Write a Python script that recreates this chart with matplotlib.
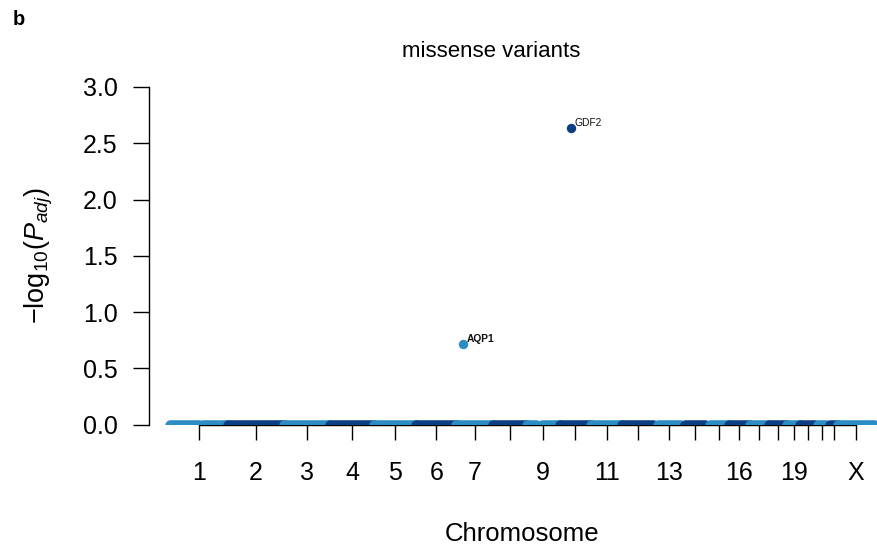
import numpy as np
import matplotlib
matplotlib.use("Agg")
import matplotlib.pyplot as plt

plt.rcParams['font.family'] = ['Liberation Sans', 'DejaVu Sans']
plt.rcParams['mathtext.fontset'] = 'custom'
plt.rcParams['mathtext.rm'] = 'Liberation Sans'
plt.rcParams['mathtext.it'] = 'Liberation Sans:italic'
plt.rcParams['mathtext.bf'] = 'Liberation Sans:bold'

# ---------------- data ----------------
chromosomes = ['1', '2', '3', '4', '5', '6', '7', '8', '9', '10', '11', '12',
               '13', '14', '15', '16', '17', '18', '19', '20', '21', '22', 'X']
# chromosome lengths (Mb) used for cumulative genome position
chrom_length = [249.3, 243.2, 198.0, 191.2, 180.9, 171.1, 159.1, 146.4, 141.2,
                135.5, 135.0, 133.9, 115.2, 107.3, 102.5, 90.4, 81.2, 78.1,
                59.1, 63.0, 48.1, 51.3, 155.3]
# span of tested genes on each chromosome (Mb); all of these have -log10(P_adj) = 0
gene_start = [0.1, 0.0, 0.1, 0.1, 0.1, 0.2, 0.1, 0.2, 0.1, 0.1, 0.2, 0.1,
              19.0, 19.0, 20.0, 0.1, 0.1, 0.1, 0.1, 0.1, 14.3, 16.0, 0.2]
gene_end = [249.2, 243.1, 197.9, 191.0, 180.8, 171.0, 159.0, 146.3, 141.1,
            135.4, 134.9, 133.8, 115.1, 107.2, 102.4, 90.3, 81.1, 78.0,
            59.0, 62.9, 48.0, 51.2, 155.2]
null_logp = 0.0
# gene-free regions (Mb)
gap_chrom = ['1', '9', '16']
gap_start = [125.0, 39.0, 36.5]
gap_end = [143.5, 66.0, 46.5]

# significant genes
hit_genes = ['AQP1', 'GDF2']
hit_chrom = ['7', '10']
hit_pos = [30.95, 48.41]
hit_logp = [0.72, 2.64]

shown_tick_labels = ['1', '2', '3', '4', '5', '6', '7', '9', '11', '13', '16', '19', 'X']

yticks = [0.0, 0.5, 1.0, 1.5, 2.0, 2.5, 3.0]

light = '#2C8DC4'
dark = '#0B3F82'

# ---------------- figure ----------------
W, H = 877, 552
fig = plt.figure(figsize=(W / 100, H / 100), dpi=100)
ax = fig.add_axes([148.7 / W, 1 - 424.5 / H, 746.6 / W, 337.5 / H])

offsets = np.concatenate([[0.0], np.cumsum(chrom_length)[:-1]])
max_pos = offsets[-1] + gene_end[-1]

ticks = []
for i, ch in enumerate(chromosomes):
    off = offsets[i]
    col = light if i % 2 == 0 else dark
    segs = [(gene_start[i], gene_end[i])]
    for gc, gs, ge in zip(gap_chrom, gap_start, gap_end):
        if gc == ch:
            new = []
            for s, e in segs:
                if gs > s and ge < e:
                    new += [(s, gs), (ge, e)]
                else:
                    new.append((s, e))
            segs = new
    for s, e in segs:
        ax.plot([off + s, off + e], [null_logp, null_logp], color=col, lw=7.6,
                solid_capstyle='round', zorder=3)
    ticks.append(off + (gene_start[i] + gene_end[i]) / 2)

for g, ch, p, v in zip(hit_genes, hit_chrom, hit_pos, hit_logp):
    i = chromosomes.index(ch)
    col = light if i % 2 == 0 else dark
    x = offsets[i] + p
    ax.scatter([x], [v], s=46, color=col, zorder=4, linewidths=0)
    ax.annotate(g, (x, v), xytext=(2.6, 1.0), textcoords='offset points',
                ha='left', va='baseline', fontsize=7.4, color='#111111',
                fontweight='bold' if g == 'AQP1' else 'normal')

ax.set_xlim(np.floor(max_pos * -0.03), np.ceil(max_pos * 1.03))
ax.set_ylim(0, 3)

ax.set_yticks(yticks)
ax.set_yticklabels([f'{t:.1f}' for t in yticks])
ax.set_xticks(ticks)
ax.set_xticklabels([c if c in shown_tick_labels else '' for c in chromosomes])

for s in ['top', 'right']:
    ax.spines[s].set_visible(False)
ax.spines['left'].set_bounds(0, 3)
ax.spines['bottom'].set_bounds(ticks[0], ticks[-1])
ax.spines['left'].set_linewidth(1.0)
ax.spines['bottom'].set_linewidth(1.0)
ax.spines['bottom'].set_zorder(1)

ax.tick_params(axis='y', direction='out', length=11.5, width=1.0, pad=11, labelsize=18)
ax.tick_params(axis='x', direction='out', length=11, width=1.0, pad=15, labelsize=18)

fig.text(491 / W, 1 - 57 / H, 'missense variants', ha='center', va='baseline', fontsize=16)
fig.text(522 / W, 1 - 541 / H, 'Chromosome', ha='center', va='baseline', fontsize=18.5)
fig.text(39 / W, 1 - 255.5 / H, r'$-\mathrm{log}_{10}(P_{adj})$', rotation=90,
         ha='center', va='center', fontsize=19.5)
fig.text(13 / W, 1 - 25 / H, 'b', ha='left', va='baseline', fontsize=14.5, fontweight='bold')

fig.savefig('out.png', dpi=100)
